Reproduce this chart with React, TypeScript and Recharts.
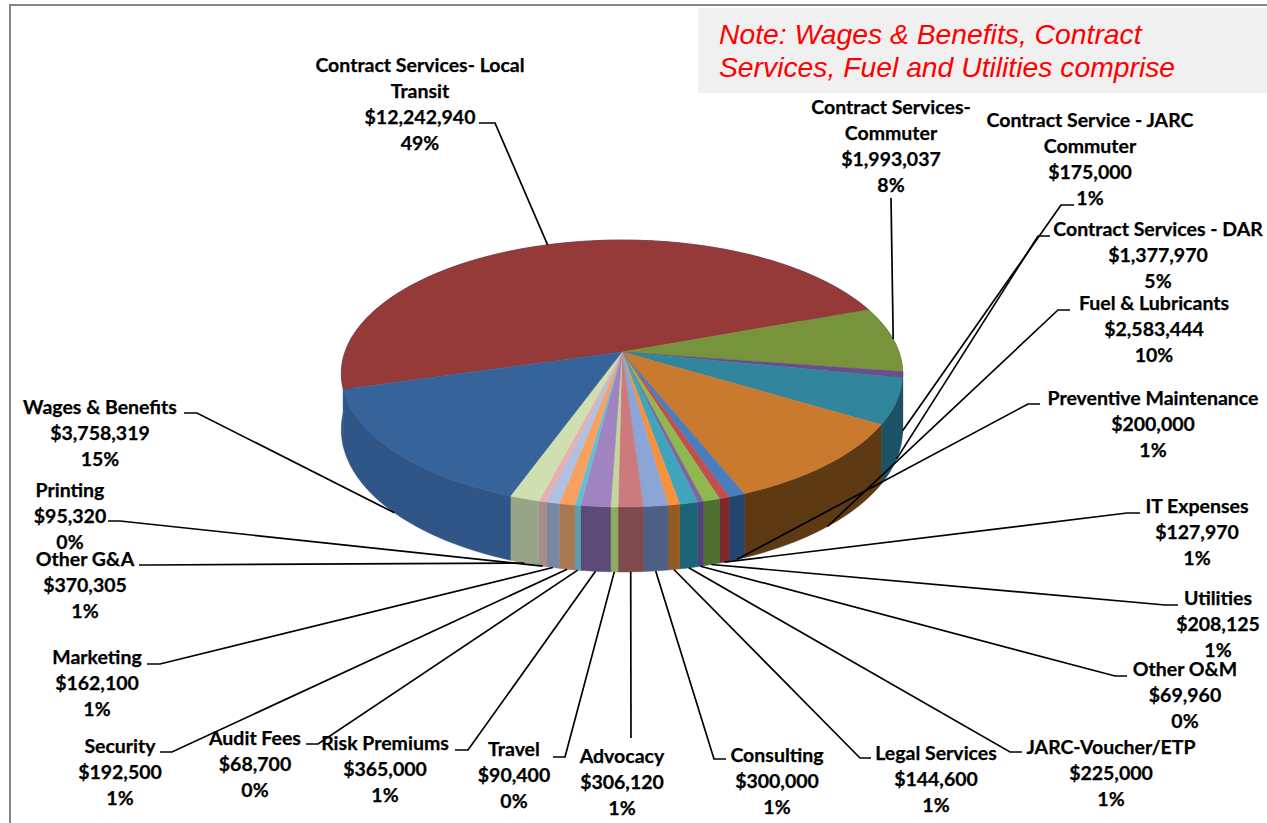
import React from "react";
import { PieChart, Pie, Cell } from "recharts";

const categories = ["Contract Services- Local Transit","Contract Services- Commuter","Contract Service - JARC Commuter","Contract Services - DAR","Fuel & Lubricants","Preventive Maintenance","IT Expenses","Utilities","Other O&M","JARC-Voucher/ETP","Legal Services","Consulting","Advocacy","Travel","Risk Premiums","Audit Fees","Security","Marketing","Printing","Other G&A","Wages & Benefits"];
const values = [12242940,1993037,175000,1377970,2583444,200000,127970,208125,69960,225000,144600,300000,306120,90400,365000,68700,192500,162100,95320,370305,3758319];
const nameLines: string[][] = [["Contract Services- Local","Transit"],["Contract Services-","Commuter"],["Contract Service - JARC","Commuter"],["Contract Services - DAR"],["Fuel & Lubricants"],["Preventive Maintenance"],["IT Expenses"],["Utilities"],["Other O&M"],["JARC-Voucher/ETP"],["Legal Services"],["Consulting"],["Advocacy"],["Travel"],["Risk Premiums"],["Audit Fees"],["Security"],["Marketing"],["Printing"],["Other G&A"],["Wages & Benefits"]];

const topColors = ["#953a38","#77933c","#6a4d8a","#31859c","#c97a2e","#4a7cc0","#c0504d","#8fb84f","#8064a2","#3fa5bd","#f7913c","#8aa5d6","#cc7a7e","#c3d69b","#a084c0","#60c0d8","#f8a060","#afc0e0","#e6b0b0","#d0dfb0","#366399"];
const wallColors = ["#2f5686","#5b702e","#49385e","#1c5266","#5e3a14","#24466e","#7a2a2c","#4f7030","#54407a","#1e6478","#945a24","#4e5f86","#7e4a4e","#8bab62","#5c4a78","#5aa0b0","#a97850","#7888a0","#ab8a8c","#98a488","#2f5686"];

const labelX = [420,891,1090,1158,1154,1153,1197,1218,1185,1111,936,777,622,514,385,255,120,97,70,85,100];
const labelY = [64,106,119,228,302,397,505,597,668,746,752,754,755,748,742,737,745,656,489,558,406];
// start of the leader stub, its knee, and its height
const stubs: number[][] = [[479,495,123],[891,891,198],[1074,1061,205],[1050,1038,236],[1070,1058,310],[1040,1028,404],[1140,1127,513],[1178,1165,605],[1127,1115,676],[1022,1010,752],[871,860,758],[726,714,759],[631,631,738],[553,565,757],[455,468,750],[306,318,744],[160,172,752],[147,160,664],[108,120,521],[139,150,565],[184,197,413]];

const W = 1267, H = 823;
const CX = 622, CY = 352, R = 277;
const SQUASH = 130 / 277, PERSP = 0.161, DEPTH = 54.5;
const FONT = "Lato, 'Noto Sans', sans-serif";

const RAD = Math.PI / 180;
function project(cx: number, cy: number, r: number, deg: number, rim = 1, lower = false) {
  const u = Math.cos(deg * RAD) * rim;
  const v = -Math.sin(deg * RAD) * rim;
  const w = 1 / (1 - PERSP * v);
  return { x: cx + r * u * w, y: cy + r * SQUASH * v * w + (lower ? DEPTH * w : 0), v };
}
function arcPoints(p: any, lower: boolean) {
  const n = Math.max(2, Math.ceil(Math.abs(p.endAngle - p.startAngle) / 1.5));
  const pts = [];
  for (let i = 0; i <= n; i++) {
    const a = p.startAngle + ((p.endAngle - p.startAngle) * i) / n;
    pts.push(project(p.cx, p.cy, p.outerRadius, a, 1, lower));
  }
  return pts;
}
const toD = (pts: { x: number; y: number }[]) => pts.map((q, i) => `${i ? "L" : "M"}${q.x.toFixed(2)} ${q.y.toFixed(2)}`).join(" ");

function WallShape(p: any) {
  const top = arcPoints(p, false);
  const bot = arcPoints(p, true).reverse();
  return <path d={toD([...top, ...bot]) + " Z"} fill={p.fill} stroke={p.fill} strokeWidth={0.6} />;
}
function TopShape(p: any) {
  const rim = arcPoints(p, false);
  return <path d={toD([{ x: p.cx, y: p.cy }, ...rim]) + " Z"} fill={p.fill} stroke={p.fill} strokeWidth={0.5} />;
}
function DataLabel(p: any) {
  const i = p.index;
  const front = -Math.sin(p.midAngle * RAD) > 0;
  const a = project(p.cx, p.cy, p.outerRadius, p.midAngle, 1, front);
  const [sx, kx, sy] = stubs[i];
  const lines = [...nameLines[i], "$" + values[i].toLocaleString("en-US"), Math.round(p.percent * 100) + "%"];
  return (
    <g>
      <polyline points={`${sx},${sy} ${kx},${sy} ${a.x.toFixed(1)},${a.y.toFixed(1)}`} fill="none" stroke="#000" strokeWidth={1.7} />
      {lines.map((t, k) => (
        <text key={k} x={labelX[i]} y={labelY[i] + k * 26} textAnchor="middle" dominantBaseline="central" fontFamily={FONT} fontWeight={700} fontSize={19.5} stroke="#000" strokeWidth={0.25} fill="#000">{t}</text>
      ))}
    </g>
  );
}

const tableData = categories.map((name, i) => ({ name, value: values[i] }));

export default function App() {
  return (
    <div style={{ position: "absolute", left: 0, top: 0, width: W, height: H, overflow: "hidden", background: "#fff" }}>
      <div style={{ position: "absolute", left: 9, top: 4, width: W, height: H, border: "2px solid #868686", boxSizing: "border-box" }} />
      <div style={{ position: "absolute", left: 698, top: 8, width: 569, height: 85, background: "#f0f0f0", color: "#ff0000", fontFamily: "'Liberation Sans', Arial, sans-serif", fontStyle: "italic", fontSize: 28.3, lineHeight: "33px", paddingLeft: 21, paddingTop: 10, boxSizing: "border-box", whiteSpace: "nowrap" }}>
        Note: Wages &amp; Benefits, Contract<br />Services, Fuel and Utilities comprise
      </div>
      <div style={{ position: "absolute", left: 0, top: 0 }}>
        <PieChart width={W} height={H} margin={{ top: 0, right: 0, bottom: 0, left: 0 }}>
          <Pie data={tableData} dataKey="value" nameKey="name" cx={CX} cy={CY} outerRadius={R} startAngle={196} endAngle={-164} isAnimationActive={false} shape={WallShape} stroke="none" legendType="none">
            {wallColors.map((c, i) => <Cell key={i} fill={c} />)}
          </Pie>
          <Pie data={tableData} dataKey="value" nameKey="name" cx={CX} cy={CY} outerRadius={R} startAngle={196} endAngle={-164} isAnimationActive={false} shape={TopShape} stroke="none" legendType="none" label={DataLabel} labelLine={false}>
            {topColors.map((c, i) => <Cell key={i} fill={c} />)}
          </Pie>
        </PieChart>
      </div>
    </div>
  );
}
